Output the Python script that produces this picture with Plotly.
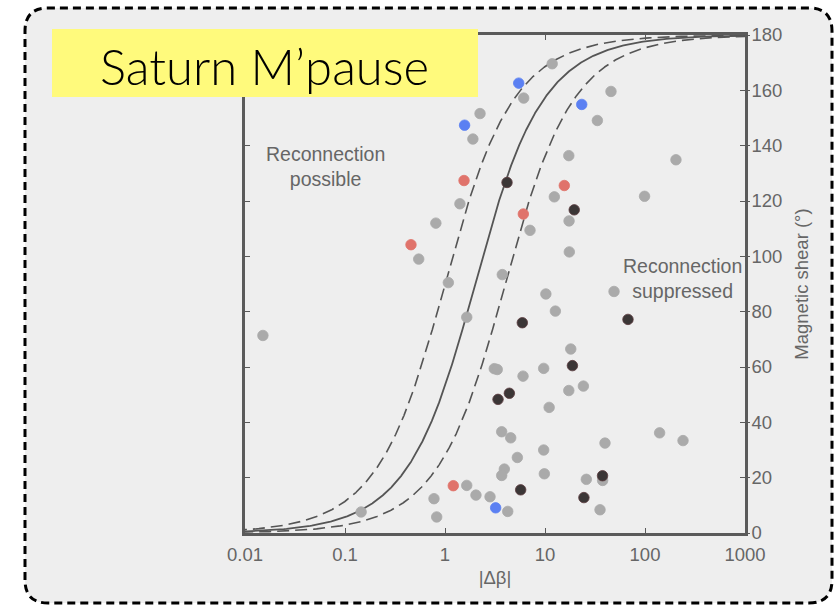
import numpy as np
import plotly.graph_objects as go

# Magnetopause crossings: |delta beta| and magnetic shear (deg), grouped by marker colour
grey_dbeta = [0.0151, 0.145, 0.776, 0.826, 0.81, 0.546, 1.08, 1.41, 1.65, 1.9, 2.24, 6.12,
              11.8, 12.4, 45.7, 33.4, 17.3, 204, 99, 7.08, 3.74, 10.2, 12.7, 17.4, 17.5, 49,
              18.1, 3.11, 3.33, 6.03, 9.7, 11.0, 3.69, 4.54, 5.29, 9.7, 3.92, 3.69, 9.85,
              1.65, 2.04, 2.82, 4.24, 17.3, 24.2, 140, 240, 39.8, 25.9, 37.7, 35.5]
grey_shear = [71.4, 7.6, 12.4, 5.8, 112, 99, 90.5, 119, 78, 142.4, 151.6, 157.2,
              169.6, 121.5, 159.6, 149.1, 136.4, 134.9, 121.7, 109.4, 93.4, 86.4, 80.2, 112.8, 101.6, 87.3,
              66.5, 59.4, 59.1, 56.7, 59.5, 45.4, 36.6, 34.4, 27.3, 30.0, 23.1, 20.8, 21.4,
              17.2, 13.7, 13.1, 7.8, 51.5, 53.1, 36.2, 33.4, 32.5, 19.4, 19.0, 8.4]

dark_dbeta = [4.17, 5.93, 19.6, 67.6, 18.8, 4.4, 3.39, 5.71, 37.6, 24.5]
dark_shear = [126.7, 76.0, 116.8, 77.2, 60.5, 50.5, 48.3, 15.6, 20.7, 12.8]

red_dbeta = [1.55, 0.457, 6.07, 15.6, 1.21]
red_shear = [127.4, 104.2, 115.3, 125.6, 17.1]

blue_dbeta = [5.46, 1.57, 23.3, 3.21]
blue_shear = [162.6, 147.4, 154.9, 9.1]

# Suppression condition |d beta| = 2 (L/d) tan(theta/2) for three L/d ratios
ratios = [0.5, 1.0, 2.0]
ratio_dash = ["dash", "solid", "dash"]

x_ticks = [0.01, 0.1, 1, 10, 100, 1000]
x_labels = ["0.01", "0.1", "1", "10", "100", "1000"]
y_ticks = [0, 20, 40, 60, 80, 100, 120, 140, 160, 180]

W, H = 836, 606
L, R, T, B = 245, 745, 35, 533   # plot area in pixels


def px(x):
    return (x - L) / (R - L)


def py(y):
    return (B - y) / (B - T)


axis_col = "#5a5a5a"
text_col = "#666666"
font_fam = "Liberation Sans, Arial, sans-serif"
fsize = 18.5

fig = go.Figure()

theta = np.linspace(0.05, 179.95, 2000)
for k, d in zip(ratios, ratio_dash):
    fig.add_trace(go.Scatter(
        x=2 * k * np.tan(np.radians(theta / 2)), y=theta, mode="lines",
        line=dict(color="#555555", width=1.8 if d == "solid" else 1.6,
                  dash="solid" if d == "solid" else "12px,6px"),
        hoverinfo="skip", showlegend=False))

for xs, ys, col, edge in [(grey_dbeta, grey_shear, "#aaaaaa", "#aaaaaa"),
                          (dark_dbeta, dark_shear, "#3b3636", "#5a3a3e"),
                          (red_dbeta, red_shear, "#e0736b", "#e0736b"),
                          (blue_dbeta, blue_shear, "#5b80f2", "#5b80f2")]:
    fig.add_trace(go.Scatter(
        x=xs, y=ys, mode="markers",
        marker=dict(size=10.5, color=col, line=dict(color=edge, width=0.8)),
        showlegend=False, cliponaxis=False))

# invisible trace for the outward right-hand tick marks
fig.add_trace(go.Scatter(x=[1], y=[0], yaxis="y2", mode="markers",
                         marker=dict(opacity=0), showlegend=False, hoverinfo="skip"))

shapes = [
    # rounded dashed frame around the whole panel
    dict(type="path", xref="paper", yref="paper", layer="below",
         path=("M {a},{b0} L {a},{b1} Q {a},{bt} {a1},{bt} L {c0},{bt} Q {c},{bt} {c},{b1} "
               "L {c},{b0} Q {c},{bb} {c0},{bb} L {a1},{bb} Q {a},{bb} {a},{b0} Z").format(
             a=px(25), a1=px(48), c=px(832), c0=px(809),
             bt=py(8), b1=py(31), bb=py(603), b0=py(580)),
         fillcolor="#eeeeee", line=dict(color="black", width=3, dash="8px,5px")),
    # yellow title box
    dict(type="rect", xref="paper", yref="paper", layer="above",
         x0=px(52), x1=px(478), y0=py(97), y1=py(29),
         fillcolor="#fffa7c", line=dict(width=0)),
]

annotations = [
    dict(text="Saturn M\u2019pause", xref="paper", yref="paper", x=px(264), y=py(66),
         xanchor="center", yanchor="middle", showarrow=False,
         font=dict(family="Lato, sans-serif", size=49, weight=300, color="black")),
    dict(text="Reconnection<br>possible", xref="paper", yref="paper", x=px(325), y=py(166),
         xanchor="center", yanchor="middle", showarrow=False,
         font=dict(family=font_fam, size=19.5, color=text_col)),
    dict(text="Reconnection<br>suppressed", xref="paper", yref="paper", x=px(682), y=py(278),
         xanchor="center", yanchor="middle", showarrow=False,
         font=dict(family=font_fam, size=19.5, color=text_col)),
]

fig.update_layout(
    width=W, height=H,
    margin=dict(l=L, r=W - R, t=T, b=H - B),
    paper_bgcolor="white", plot_bgcolor="rgba(0,0,0,0)",
    shapes=shapes, annotations=annotations,
    xaxis=dict(type="log", range=[-2, 3], tickvals=x_ticks, ticktext=x_labels,
               ticks="inside", ticklen=5, tickwidth=1.2, tickcolor=axis_col,
               showline=True, linecolor=axis_col, linewidth=2.5, mirror="ticks",
               showgrid=False, zeroline=False, ticklabelstandoff=3,
               tickfont=dict(family=font_fam, size=fsize, color=text_col),
               title=dict(text="|\u0394\u03b2|", standoff=8,
                          font=dict(family=font_fam, size=fsize, color=text_col))),
    yaxis=dict(range=[0, 180], side="right", tickvals=y_ticks,
               ticks="inside", ticklen=5, tickwidth=1.2, tickcolor=axis_col,
               showline=True, linecolor=axis_col, linewidth=2.5, mirror="ticks",
               showgrid=False, zeroline=False,
               tickfont=dict(family=font_fam, size=fsize, color=text_col),
               title=dict(text="Magnetic shear (\u00b0)", standoff=14,
                          font=dict(family=font_fam, size=fsize, color=text_col))),
    yaxis2=dict(range=[0, 180], overlaying="y", side="right", tickvals=y_ticks,
                ticks="outside", ticklen=4, tickwidth=1.2, tickcolor=axis_col,
                showticklabels=False, showline=False, showgrid=False, zeroline=False),
)

fig.write_html("out.html")
